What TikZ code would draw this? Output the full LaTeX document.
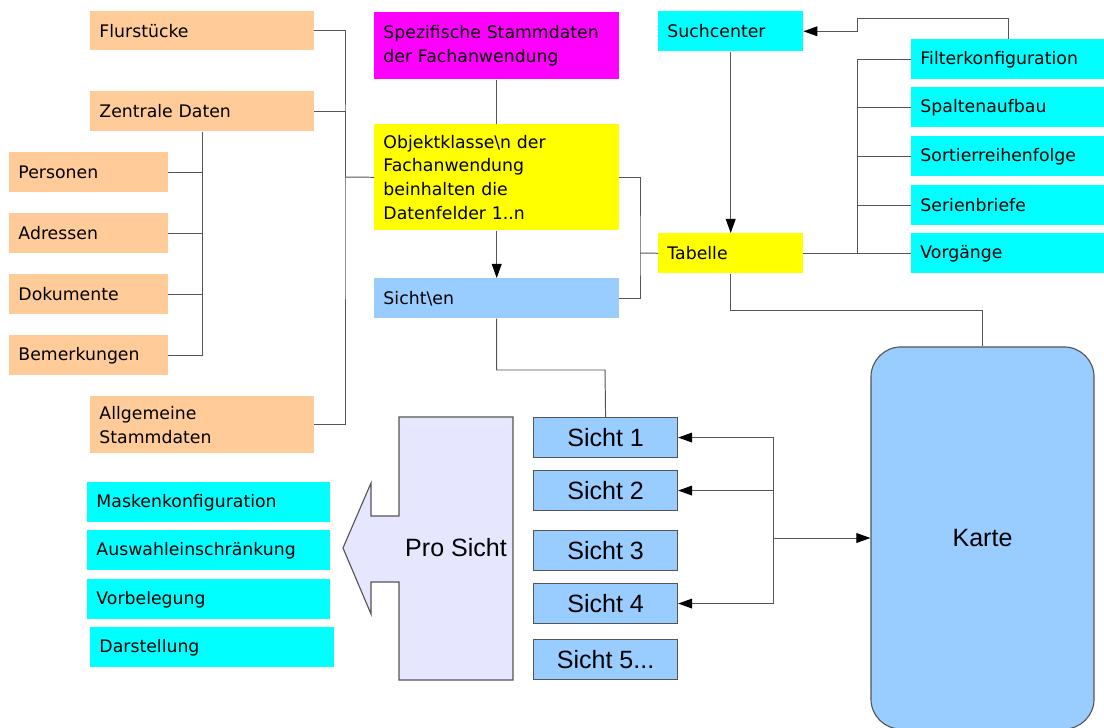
\documentclass[tikz,border=0pt]{standalone}
\usepackage{fontspec}
\setmainfont{DejaVu Sans}
\newfontfamily\arialfont{Liberation Sans}
\usepackage{tikz}
\usetikzlibrary{arrows.meta,positioning,calc}
\definecolor{gcpeach}{HTML}{FFCC99}
\definecolor{gcmagenta}{HTML}{FF00FF}
\definecolor{gcyellow}{HTML}{FFFF00}
\definecolor{gccyan}{HTML}{00FFFF}
\definecolor{gcblue}{HTML}{99CCFF}
\definecolor{gclavender}{HTML}{E6E6FF}
\definecolor{linegray}{HTML}{555555}
\newcommand{\lblfont}{\fontsize{12.3}{16.8}\selectfont}
\newcommand{\sichtfont}{\arialfont\fontsize{17.8}{20}\selectfont}
\tikzset{
  lbl/.style={
    anchor=north west, inner xsep=0.23cm, inner ysep=0pt,
    align=left, font=\lblfont
  },
  orangebox/.style={lbl, fill=gcpeach},
  magentabox/.style={lbl, fill=gcmagenta},
  yellowbox/.style={lbl, fill=gcyellow},
  cyanbox/.style={lbl, fill=gccyan},
  bluebox/.style={lbl, fill=gcblue},
  sichtbox/.style={
    anchor=north west, draw=linegray, fill=gcblue, line width=0.8pt,
    minimum width=3.6cm, minimum height=1cm, inner sep=0pt,
    font=\sichtfont
  },
  conn/.style={draw=linegray, line width=0.7pt},
  arr/.style={-{Triangle[length=10pt,width=7pt,color=black]}, draw=linegray, line width=0.7pt}
}
\begin{document}
\begin{tikzpicture}[x=0.025cm, y=-0.025cm]
  \useasboundingbox (0,0) rectangle (1104,728);

  % Stammdaten
  \node[orangebox, text width=5.135cm, minimum height=0.975cm] (flur) at (90,11) {Flurstücke};
  \node[orangebox, text width=5.135cm, minimum height=1cm] (zentral) at (90,91) {Zentrale Daten};
  \node[orangebox, text width=3.51cm, minimum height=1cm] (personen) at (9,152) {Personen};
  \node[orangebox, text width=3.51cm, minimum height=1cm] (adressen) at (9,213) {Adressen};
  \node[orangebox, text width=3.51cm, minimum height=1cm] (dokumente) at (9,274) {Dokumente};
  \node[orangebox, text width=3.51cm, minimum height=1cm] (bemerk) at (9,335) {Bemerkungen};
  \node[orangebox, text width=5.135cm, minimum height=1.425cm] (allg) at (90,396) {Allgemeine\\Stammdaten};

  % Fachanwendung
  \node[magentabox, text width=5.66cm, minimum height=1.675cm] (spez) at (374,12) {Spezifische Stammdaten\\der Fachanwendung};
  \node[yellowbox, text width=5.66cm, minimum height=2.65cm] (objekt) at (374,124) {Objektklasse\textbackslash n der\\Fachanwendung\\beinhalten die\\Datenfelder 1..n};
  \node[bluebox, text width=5.66cm, minimum height=1cm] (sichten) at (374,278) {Sicht\textbackslash en};

  % Suchcenter / Tabelle
  \node[cyanbox, text width=3.16cm, minimum height=1cm] (such) at (658,11) {Suchcenter};
  \node[yellowbox, text width=3.16cm, minimum height=1cm] (tabelle) at (658,233) {Tabelle};
  \node[cyanbox, text width=4.385cm, minimum height=1cm] (filter) at (911,39) {Filterkonfiguration};
  \node[cyanbox, text width=4.385cm, minimum height=1cm] (spalten) at (911,87) {Spaltenaufbau};
  \node[cyanbox, text width=4.385cm, minimum height=1cm] (sortier) at (911,136) {Sortierreihenfolge};
  \node[cyanbox, text width=4.385cm, minimum height=1cm] (serien) at (911,185) {Serienbriefe};
  \node[cyanbox, text width=4.385cm, minimum height=1cm] (vorg) at (911,233) {Vorgänge};

  % Sichten
  \node[sichtbox] (s1) at (533,417) {Sicht 1};
  \node[sichtbox] (s2) at (533,470) {Sicht 2};
  \node[sichtbox] (s3) at (533,530) {Sicht 3};
  \node[sichtbox] (s4) at (533,583) {Sicht 4};
  \node[sichtbox] (s5) at (533,639) {Sicht 5...};

  % Pro Sicht
  \draw[draw=linegray, fill=gclavender, line width=0.8pt]
    (399,417) -- (513,417) -- (513,680) -- (399,680) -- (399,582) -- (371,582)
    -- (371,614) -- (343,548) -- (371,483) -- (371,516) -- (399,516) -- cycle;
  \node[font=\sichtfont] (pro) at (456,548) {Pro Sicht};
  \node[cyanbox, text width=5.61cm, minimum height=1cm] (masken) at (87,482) {Maskenkonfiguration};
  \node[cyanbox, text width=5.61cm, minimum height=1cm] (auswahl) at (87,530) {Auswahleinschränkung};
  \node[cyanbox, text width=5.61cm, minimum height=1cm] (vorbel) at (87,579) {Vorbelegung};
  \node[cyanbox, text width=5.635cm, minimum height=1cm] (darst) at (90,627) {Darstellung};

  % Karte
  \node[draw=linegray, fill=gcblue, line width=0.8pt, rounded corners=0.75cm,
        minimum width=5.575cm, minimum height=9.55cm, font=\sichtfont] (karte) at (982.5,538) {Karte};

  % Connectors
  \coordinate (lbus) at (345,177);
  \draw[conn] (flur.east) -| (lbus) |- (allg.east);
  \draw[conn] (zentral.east) -| (lbus);
  \draw[conn] (lbus) -- (objekt.west);
  \draw[conn] (zentral.south) |- (bemerk.east);
  \draw[conn] (personen.east) -| (zentral.south);
  \draw[conn] (adressen.east) -| (zentral.south);
  \draw[conn] (dokumente.east) -| (zentral.south);

  \draw[conn] (spez.south) -- (objekt.north);
  \draw[arr] (objekt.south) -- (sichten.north);
  \coordinate (mbus) at (640,253);
  \draw[conn] (objekt.east) -| (mbus) |- (sichten.east);
  \draw[conn] (mbus) -- (tabelle.west);

  \draw[arr] (such.south) -- (tabelle.north);
  \coordinate (rbus) at (857,253);
  \draw[conn] (tabelle.east) -- (vorg.west);
  \draw[conn] (filter.west) -| (rbus);
  \draw[conn] (spalten.west) -| (rbus);
  \draw[conn] (sortier.west) -| (rbus);
  \draw[conn] (serien.west) -| (rbus);
  \coordinate (fk) at (857,18);
  \draw[arr] (filter.north) |- (fk) |- (such.east);

  \coordinate (tk) at (982.5,310);
  \draw[conn] (tabelle.south) |- (tk) -- (karte.north);
  \coordinate (ss) at (605,370);
  \draw[conn] (sichten.south) |- (ss) -- (s1.north);

  \coordinate (kbus) at (773,538);
  \draw[arr] (kbus) -- (karte.west);
  \draw[arr] (kbus) |- (s1.east);
  \draw[arr] (kbus) |- (s2.east);
  \draw[arr] (kbus) |- (s4.east);
\end{tikzpicture}
\end{document}
